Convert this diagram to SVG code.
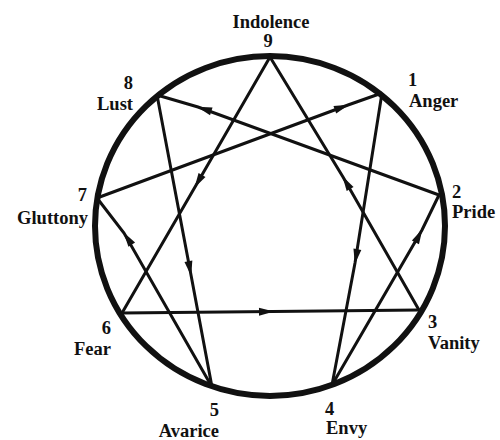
<svg xmlns="http://www.w3.org/2000/svg" width="500" height="440" viewBox="0 0 500 440">
<style>
.lbl{font-family:"Liberation Serif","Times New Roman",serif;font-weight:bold;font-size:18.5px;fill:#111}
.ln{fill:none;stroke:#111;stroke-width:3;marker-mid:url(#ah)}
</style>
<defs>
<marker id="ah" markerUnits="userSpaceOnUse" markerWidth="20" markerHeight="12" viewBox="-15 -6 17 12" refX="0" refY="0" orient="auto">
<path d="M1,0 L-14,-4 L-14,4 Z" fill="#111"/>
</marker>
</defs>
<rect width="500" height="440" fill="#fff"/>
<g id="circle"><ellipse cx="270" cy="226" rx="175" ry="170" fill="none" stroke="#111" stroke-width="6"/></g>
<g id="connectors">
<polyline class="ln" points="270,57 195,187 122,313"/>
<polyline class="ln" points="419,310 343,177 270,57"/>
<polyline class="ln" points="122,313 273,311.5 419,310"/>
<polyline class="ln" points="382,93 355,263 332,385"/>
<polyline class="ln" points="332,385 422,230 439,195"/>
<polyline class="ln" points="439,195 198,107 157,95"/>
<polyline class="ln" points="157,95 191,275 212,387"/>
<polyline class="ln" points="212,387 124,233 97,198"/>
<polyline class="ln" points="97,198 348,105 382,93"/>
</g>
<g id="n9"><text class="lbl" x="271" y="28" text-anchor="middle">Indolence</text><text class="lbl" x="268" y="47" text-anchor="middle">9</text></g>
<g id="n1"><text class="lbl" x="408" y="86">1</text><text class="lbl" x="409" y="107">Anger</text></g>
<g id="n2"><text class="lbl" x="452" y="198">2</text><text class="lbl" x="452" y="218">Pride</text></g>
<g id="n3"><text class="lbl" x="428" y="328">3</text><text class="lbl" x="428" y="349">Vanity</text></g>
<g id="n4"><text class="lbl" x="325" y="415">4</text><text class="lbl" x="326" y="434">Envy</text></g>
<g id="n5"><text class="lbl" x="219" y="416" text-anchor="end">5</text><text class="lbl" x="219" y="437" text-anchor="end">Avarice</text></g>
<g id="n6"><text class="lbl" x="111" y="334" text-anchor="end">6</text><text class="lbl" x="111" y="355" text-anchor="end">Fear</text></g>
<g id="n7"><text class="lbl" x="87" y="201" text-anchor="end">7</text><text class="lbl" x="88" y="224" text-anchor="end">Gluttony</text></g>
<g id="n8"><text class="lbl" x="133" y="89" text-anchor="end">8</text><text class="lbl" x="133" y="110" text-anchor="end">Lust</text></g>
</svg>
